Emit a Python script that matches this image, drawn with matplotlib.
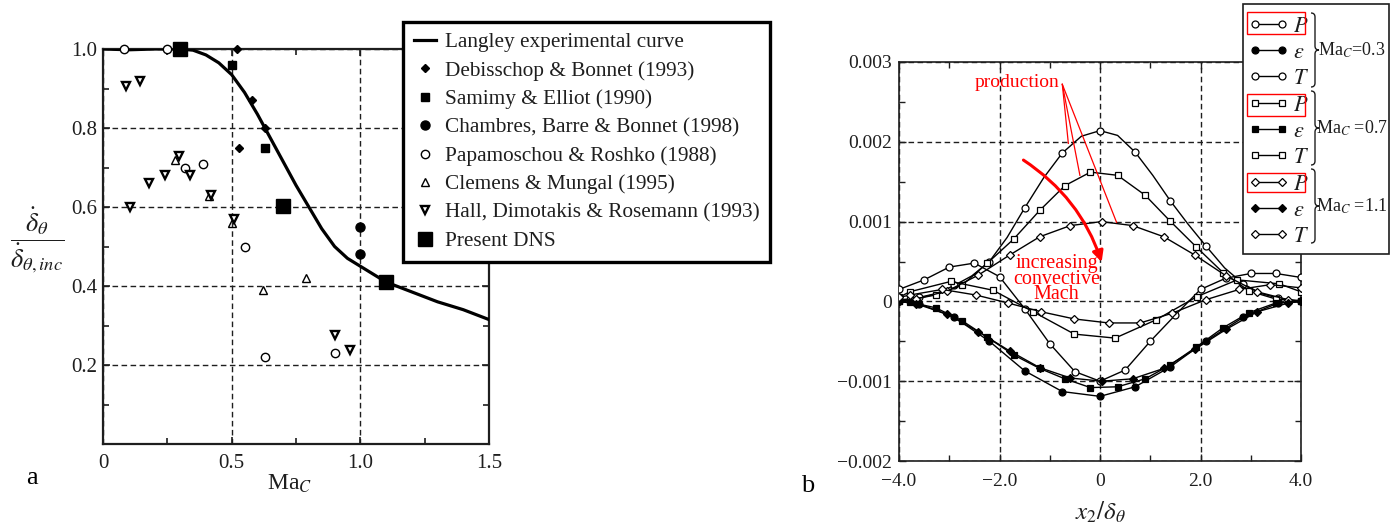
import matplotlib
matplotlib.use("Agg")
import matplotlib.pyplot as plt
from matplotlib.patches import Rectangle, FancyArrowPatch, PathPatch
from matplotlib.path import Path

plt.rcParams['font.family'] = ['Liberation Serif', 'DejaVu Serif']
plt.rcParams['mathtext.fontset'] = 'stix'

W, H = 1396, 529

# ---------------- panel a data ----------------
langley_x = [0, 0.1, 0.2, 0.3, 0.35, 0.4, 0.45, 0.5, 0.55, 0.6, 0.65, 0.7, 0.75,
             0.8, 0.85, 0.9, 0.95, 1.0, 1.05, 1.1, 1.2, 1.3, 1.4, 1.5]
langley_y = [1.0, 0.998, 1.0, 1.0, 0.997, 0.985, 0.965, 0.935, 0.89, 0.835, 0.775,
             0.715, 0.655, 0.6, 0.545, 0.5, 0.47, 0.45, 0.43, 0.41, 0.385, 0.36, 0.34, 0.315]
debisschop_x = [0.52, 0.58, 0.63, 0.53]
debisschop_y = [1.0, 0.87, 0.80, 0.75]
samimy_x = [0.50, 0.63]
samimy_y = [0.96, 0.75]
chambres_x = [1.0, 1.0]
chambres_y = [0.55, 0.48]
papam_x = [0.08, 0.25, 0.32, 0.39, 0.55, 0.63, 0.90]
papam_y = [1.0, 1.0, 0.70, 0.71, 0.50, 0.22, 0.23]
clemens_x = [0.28, 0.41, 0.50, 0.62, 0.79]
clemens_y = [0.72, 0.627, 0.56, 0.39, 0.42]
hall_x = [0.09, 0.145, 0.105, 0.177, 0.24, 0.295, 0.34, 0.42, 0.51, 0.90, 0.96]
hall_y = [0.907, 0.92, 0.60, 0.66, 0.68, 0.73, 0.68, 0.63, 0.57, 0.277, 0.237]
dns_x = [0.30, 0.70, 1.10]
dns_y = [1.0, 0.603, 0.41]

# ---------------- panel b data (y in units of 1e-3) ----------------
P03_x = [-4.0, -3.8, -3.6, -3.25, -2.9, -2.55, -2.2, -1.85, -1.5, -1.12, -0.75, -0.37, 0.0,
         0.35, 0.7, 1.05, 1.4, 1.75, 2.1, 2.48, 2.85, 3.2, 3.55, 3.78, 4.0]
P03_y = [0.02, 0.03, 0.05, 0.1, 0.2, 0.32, 0.5, 0.8, 1.17, 1.55, 1.86, 2.07, 2.14,
         2.08, 1.87, 1.58, 1.26, 0.97, 0.70, 0.42, 0.22, 0.1, 0.04, 0.02, 0.01]
E03_x = [-4.0, -3.6, -2.9, -2.2, -1.5, -0.75, 0.0, 0.7, 1.4, 2.1, 2.85, 3.55, 4.0]
E03_y = [0.0, -0.03, -0.2, -0.5, -0.87, -1.13, -1.19, -1.07, -0.82, -0.5, -0.2, -0.02, 0.0]
T03_x = [-4.0, -3.5, -3.0, -2.5, -2.0, -1.5, -1.0, -0.5, 0.0, 0.5, 1.0, 1.5, 2.0, 2.5, 3.0, 3.5, 4.0]
T03_y = [0.15, 0.27, 0.43, 0.48, 0.31, -0.09, -0.53, -0.88, -1.0, -0.86, -0.5, -0.17,
         0.15, 0.29, 0.35, 0.35, 0.30]

P07_x = [-4.0, -3.78, -3.27, -2.75, -2.24, -1.72, -1.2, -0.7, -0.19, 0.35, 0.9, 1.39,
         1.92, 2.45, 2.97, 3.5, 4.0]
P07_y = [0.0, 0.02, 0.08, 0.2, 0.48, 0.78, 1.14, 1.45, 1.62, 1.58, 1.33, 1.01, 0.68,
         0.36, 0.13, 0.03, 0.0]
E07_x = P07_x
E07_y = [0.0, -0.01, -0.08, -0.24, -0.45, -0.67, -0.84, -0.97, -1.08, -1.07, -0.97, -0.8,
         -0.57, -0.33, -0.14, -0.02, 0.0]
T07_x = [-4.0, -3.79, -2.97, -2.13, -1.33, -0.51, 0.3, 1.12, 1.93, 2.73, 3.57, 4.0]
T07_y = [0.05, 0.12, 0.25, 0.14, -0.13, -0.41, -0.46, -0.23, 0.06, 0.27, 0.22, 0.12]

P11_x = [-4.0, -3.66, -3.04, -2.42, -1.8, -1.2, -0.59, 0.03, 0.65, 1.27, 1.89, 2.51,
         3.13, 3.75, 4.0]
P11_y = [0.01, 0.03, 0.13, 0.33, 0.58, 0.81, 0.95, 1.0, 0.95, 0.81, 0.58, 0.32, 0.12, 0.02, 0.0]
E11_x = P11_x
E11_y = [0.0, -0.03, -0.16, -0.38, -0.62, -0.83, -0.96, -1.0, -0.97, -0.84, -0.6, -0.35,
         -0.13, -0.02, 0.0]
T11_x = [-4.0, -3.78, -3.14, -2.47, -1.83, -1.17, -0.51, 0.17, 0.8, 1.43, 2.1, 2.77, 3.39, 4.0]
T11_y = [0.05, 0.08, 0.15, 0.08, -0.02, -0.13, -0.22, -0.27, -0.27, -0.15, 0.02, 0.15, 0.21, 0.17]

b_labels = ['$P$', r'$\epsilon$', '$T$']
mach_labels = ['Ma$_C$=0.3', 'Ma$_C$ =0.7', 'Ma$_C$ =1.1']


def fx(x):
    return x / W


def fy(y):
    return 1 - y / H


fig = plt.figure(figsize=(W / 100, H / 100), dpi=100)
ink = '#1e1e1e'

# ================= panel a =================
ax_a = fig.add_axes([fx(103), fy(444), (489 - 103) / W, (444 - 49) / H])
lang, = ax_a.plot(langley_x, langley_y, color='black', lw=2.3, zorder=3,
                  label='Langley experimental curve')
kw = dict(ls='none', clip_on=False, zorder=4)
h1, = ax_a.plot(debisschop_x, debisschop_y, marker='D', ms=4.5, color='black',
                label='Debisschop & Bonnet (1993)', **kw)
h2, = ax_a.plot(samimy_x, samimy_y, marker='s', ms=5.2, color='black',
                label='Samimy & Elliot (1990)', **kw)
h3, = ax_a.plot(chambres_x, chambres_y, marker='o', ms=6.5, color='black',
                label='Chambres, Barre & Bonnet (1998)', **kw)
h4, = ax_a.plot(papam_x, papam_y, marker='o', ms=6, mfc='white', mec='black', mew=1,
                label='Papamoschou & Roshko (1988)', **kw)
h5, = ax_a.plot(clemens_x, clemens_y, marker='^', ms=6, mfc='none', mec='black', mew=1,
                label='Clemens & Mungal (1995)', **kw)
h6, = ax_a.plot(hall_x, hall_y, marker='v', ms=5.5, mfc='white', mec='black', mew=1.7,
                label='Hall, Dimotakis & Rosemann (1993)', **kw)
h7, = ax_a.plot(dns_x, dns_y, marker='s', ms=10, color='black',
                label='Present DNS', **kw)

ax_a.set_xlim(0, 1.5)
ax_a.set_ylim(0, 1.0)
ax_a.set_xticks([0, 0.5, 1.0, 1.5])
ax_a.set_xticklabels(['0', '0.5', '1.0', '1.5'])
ax_a.set_xticks([0.25, 0.75, 1.25], minor=True)
ax_a.set_yticks([0.2, 0.4, 0.6, 0.8, 1.0])
ax_a.set_yticklabels(['0.2', '0.4', '0.6', '0.8', '1.0'])
ax_a.set_yticks([0.1, 0.3, 0.5, 0.7, 0.9], minor=True)
ax_a.tick_params(which='both', direction='in', top=True, right=True, colors=ink,
                 labelsize=15, width=1.2)
ax_a.tick_params(which='major', length=5)
ax_a.tick_params(which='minor', length=4)
ax_a.tick_params(axis='x', pad=7)
ax_a.tick_params(axis='y', pad=4)
for s in ax_a.spines.values():
    s.set_linewidth(1.6)
    s.set_color(ink)
ax_a.grid(True, which='major', color=ink, ls=(0, (4, 2.5)), lw=1.0)

fig.text(fx(37), fy(240), r'$\dfrac{\dot{\delta}_\theta}{\dot{\delta}_{\theta,inc}}$',
         fontsize=19, ha='center', va='center', color=ink)
fig.text(fx(290), fy(484), 'Ma$_C$', fontsize=17, ha='center', va='center', color=ink)
fig.text(fx(32), fy(478), 'a', fontsize=19, ha='center', va='center', color='black')

leg_a = fig.legend(handles=[lang, h1, h2, h3, h4, h5, h6, h7], loc='upper left',
                   bbox_to_anchor=(fx(403), fy(22)), bbox_transform=fig.transFigure,
                   borderaxespad=0, fancybox=False, edgecolor='black', framealpha=1,
                   handlelength=1.05, handletextpad=0.42, borderpad=0.5,
                   labelspacing=0.4, fontsize=15.3)
leg_a.get_frame().set_linewidth(2.4)
for t in leg_a.get_texts():
    t.set_color(ink)

# ================= panel b =================
ax_b = fig.add_axes([fx(899), fy(461), (1301 - 899) / W, (461 - 62) / H])
sc = 1e-3
lines_b = []
for xs, ys, m, filled, every in [
        (P03_x, P03_y, 'o', False, 2), (E03_x, E03_y, 'o', True, 1), (T03_x, T03_y, 'o', False, 1),
        (P07_x, P07_y, 's', False, 1), (E07_x, E07_y, 's', True, 1), (T07_x, T07_y, 's', False, 1),
        (P11_x, P11_y, 'D', False, 1), (E11_x, E11_y, 'D', True, 1), (T11_x, T11_y, 'D', False, 1)]:
    ln, = ax_b.plot(xs, [v * sc for v in ys], marker=m, markevery=every,
                    mfc='black' if filled else 'white', mec='black',
                    ms=4.2 if m == 'D' else 5, color='black', lw=1.0, mew=0.9, zorder=3)
    lines_b.append(ln)

ax_b.set_xlim(-4, 4)
ax_b.set_ylim(-0.002, 0.003)
ax_b.set_xticks([-4, -2, 0, 2, 4])
ax_b.set_xticklabels(['\u22124.0', '\u22122.0', '0', '2.0', '4.0'])
ax_b.set_xticks([-3, -1, 1, 3], minor=True)
ax_b.set_yticks([-0.002, -0.001, 0, 0.001, 0.002, 0.003])
ax_b.set_yticklabels(['\u22120.002', '\u22120.001', '0', '0.001', '0.002', '0.003'])
ax_b.set_yticks([-0.0015, -0.0005, 0.0005, 0.0015, 0.0025], minor=True)
ax_b.tick_params(which='both', direction='in', top=True, right=True, colors=ink,
                 labelsize=14, width=1.0)
ax_b.tick_params(which='major', length=5)
ax_b.tick_params(which='minor', length=4)
ax_b.tick_params(axis='x', pad=9)
ax_b.tick_params(axis='y', pad=5)
for s in ax_b.spines.values():
    s.set_linewidth(1.2)
    s.set_color(ink)
ax_b.grid(True, which='major', color=ink, ls=(0, (4, 2.5)), lw=1.0)

# red annotations
ax_b.text(-1.66, 2.74e-3, 'production', color='red', fontsize=14, ha='center', va='center')
for tx, ty in [(-0.63, 1.98e-3), (-0.40, 1.58e-3), (0.33, 0.99e-3)]:
    ax_b.plot([-0.75, tx], [2.72e-3, ty], color='red', lw=0.9, zorder=5)
ax_b.add_patch(FancyArrowPatch((-1.57, 1.79e-3), (0.05, 0.46e-3),
                               connectionstyle='arc3,rad=-0.18', arrowstyle='-|>',
                               mutation_scale=16, color='red', lw=2.2, zorder=6))
ax_b.text(-0.86, 0.28e-3, 'increasing\nconvective\nMach', color='red', fontsize=14.5,
          ha='center', va='center', linespacing=0.72, zorder=6)

fig.text(fx(1100), fy(512), r'$x_2/\delta_\theta$', fontsize=18, ha='center', va='center',
         color=ink)
fig.text(fx(808), fy(486), 'b', fontsize=19, ha='center', va='center', color='black')

# legend box of panel b
fig.add_artist(Rectangle((fx(1243), fy(254)), 146 / W, 250 / H, transform=fig.transFigure,
                         facecolor='white', edgecolor=ink, lw=1.2, zorder=4))
leg_b = fig.legend(handles=lines_b, labels=b_labels * 3, loc='upper left',
                   bbox_to_anchor=(fx(1248), fy(16)), bbox_transform=fig.transFigure,
                   borderaxespad=0, borderpad=0, frameon=False, numpoints=2,
                   handlelength=1.82, handletextpad=0.2, labelspacing=0.26,
                   fontsize=16)
leg_b.set_zorder(6)
for t in leg_b.get_texts():
    t.set_color(ink)

for y0, y1 in [(12, 34), (94, 116), (173, 192)]:
    fig.add_artist(Rectangle((fx(1247), fy(y1)), 58 / W, (y1 - y0) / H,
                             transform=fig.transFigure, facecolor='none',
                             edgecolor='red', lw=1.0, zorder=7))


def brace(xl, y0, y1, w):
    ym = (y0 + y1) / 2
    h = w / 2
    pts = [(xl, y0), (xl + h, y0), (xl + h, y0 + h), (xl + h, ym - h),
           (xl + h, ym), (xl + w, ym), (xl + h, ym), (xl + h, ym + h),
           (xl + h, y1 - h), (xl + h, y1), (xl, y1)]
    codes = [Path.MOVETO, Path.CURVE3, Path.CURVE3, Path.LINETO,
             Path.CURVE3, Path.CURVE3, Path.CURVE3, Path.CURVE3,
             Path.LINETO, Path.CURVE3, Path.CURVE3]
    p = Path([(fx(a), fy(b)) for a, b in pts], codes)
    fig.add_artist(PathPatch(p, transform=fig.transFigure, facecolor='none',
                             edgecolor=ink, lw=1.0, zorder=7))


for (y0, y1), lab in zip([(13, 87), (91, 165), (169, 243)], mach_labels):
    brace(1311, y0, y1, 8)
    fig.text(fx(1352), fy((y0 + y1) / 2), lab, fontsize=13, ha='center', va='center',
             color=ink, zorder=7)

fig.savefig('out.png', dpi=100)
